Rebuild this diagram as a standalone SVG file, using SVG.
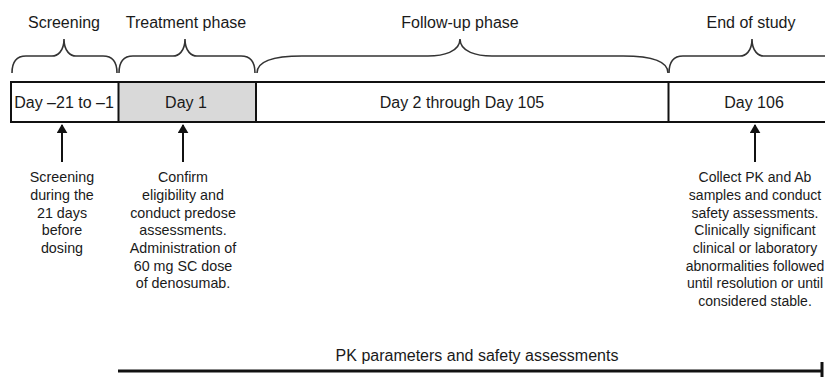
<svg xmlns="http://www.w3.org/2000/svg" width="825" height="377" viewBox="0 0 825 377">
<style>
text{font-family:"Liberation Sans",Arial,sans-serif;fill:#1a1a1a;text-anchor:middle}
.lbl{font-size:16px}
.note{font-size:14.3px}
.note2{font-size:14px}
.brace{fill:none;stroke:#333;stroke-width:1.6}
.cell{stroke:#111;stroke-width:2}
.arr{stroke:#111;stroke-width:2}
</style>
<defs>
<marker id="ah" viewBox="0 0 10 12" refX="9" refY="6" markerWidth="4.5" markerHeight="5.5" orient="auto" markerUnits="strokeWidth">
<path d="M0,0 L10,6 L0,12 Z" fill="#111"/>
</marker>
</defs>
<g id="phase-labels">
<text class="lbl" x="64" y="28">Screening</text>
<text class="lbl" x="186" y="28">Treatment phase</text>
<text class="lbl" x="460" y="28">Follow-up phase</text>
<text class="lbl" x="751" y="28">End of study</text>
</g>
<g id="braces">
<path class="brace" d="M12,73 C12,62 16,56 26,56 L52,56 C57,56 64,52 64,39 C64,52 71,56 76,56 L103,56 C113,56 117,62 117,73"/>
<path class="brace" d="M119,73 C119,62 123,56 133,56 L173,56 C178,56 185,52 185,39 C185,52 192,56 197,56 L241,56 C251,56 255,62 255,73"/>
<path class="brace" d="M257,73 C257,62 272,56 302,56 L428,56 C443,56 460,52 460,39 C460,52 477,56 492,56 L623,56 C653,56 668,62 668,73"/>
<path class="brace" d="M669,73 C669,62 673,56 683,56 L740,56 C745,56 752,52 752,39 C752,52 759,56 764,56 L830,56"/>
</g>
<g id="timeline">
<rect class="cell" x="11" y="82" width="840" height="40" fill="#fff"/>
<rect x="119" y="83" width="137" height="38" fill="#d9d9d9"/>
<line class="cell" x1="118.5" y1="82" x2="118.5" y2="122"/>
<line class="cell" x1="256" y1="82" x2="256" y2="122"/>
<line class="cell" x1="668.5" y1="82" x2="668.5" y2="122"/>
</g>
<g id="cell-screening"><text class="lbl" x="64" y="108">Day –21 to –1</text></g>
<g id="cell-day1"><text class="lbl" x="186" y="108">Day 1</text></g>
<g id="cell-followup"><text class="lbl" x="462" y="108">Day 2 through Day 105</text></g>
<g id="cell-day106"><text class="lbl" x="754" y="108">Day 106</text></g>
<g id="connectors">
<line class="arr" x1="62" y1="162" x2="62" y2="125" marker-end="url(#ah)"/>
<line class="arr" x1="183" y1="162" x2="183" y2="125" marker-end="url(#ah)"/>
<line class="arr" x1="755" y1="162" x2="755" y2="125" marker-end="url(#ah)"/>
</g>
<g id="note-screening">
<text class="note" x="62" y="182">Screening</text>
<text class="note" x="62" y="200">during the</text>
<text class="note" x="62" y="217.5">21 days</text>
<text class="note" x="62" y="235">before</text>
<text class="note" x="62" y="253">dosing</text>
</g>
<g id="note-day1">
<text class="note" x="183" y="182">Confirm</text>
<text class="note" x="183" y="200">eligibility and</text>
<text class="note" x="183" y="217.5">conduct predose</text>
<text class="note" x="183" y="235">assessments.</text>
<text class="note" x="183" y="253">Administration of</text>
<text class="note" x="183" y="270.5">60 mg SC dose</text>
<text class="note" x="183" y="288">of denosumab.</text>
</g>
<g id="note-day106">
<text class="note2" x="755" y="182">Collect PK and Ab</text>
<text class="note2" x="755" y="200">samples and conduct</text>
<text class="note2" x="755" y="217.5">safety assessments.</text>
<text class="note2" x="755" y="235">Clinically significant</text>
<text class="note2" x="755" y="253">clinical or laboratory</text>
<text class="note2" x="755" y="270.5">abnormalities followed</text>
<text class="note2" x="755" y="288">until resolution or until</text>
<text class="note2" x="755" y="305.5">considered stable.</text>
</g>
<g id="pk-span">
<text class="lbl" x="477" y="361">PK parameters and safety assessments</text>
<line x1="118" y1="371" x2="822" y2="371" stroke="#111" stroke-width="3"/>
<line x1="822" y1="362" x2="822" y2="377" stroke="#111" stroke-width="3"/>
</g>
</svg>
